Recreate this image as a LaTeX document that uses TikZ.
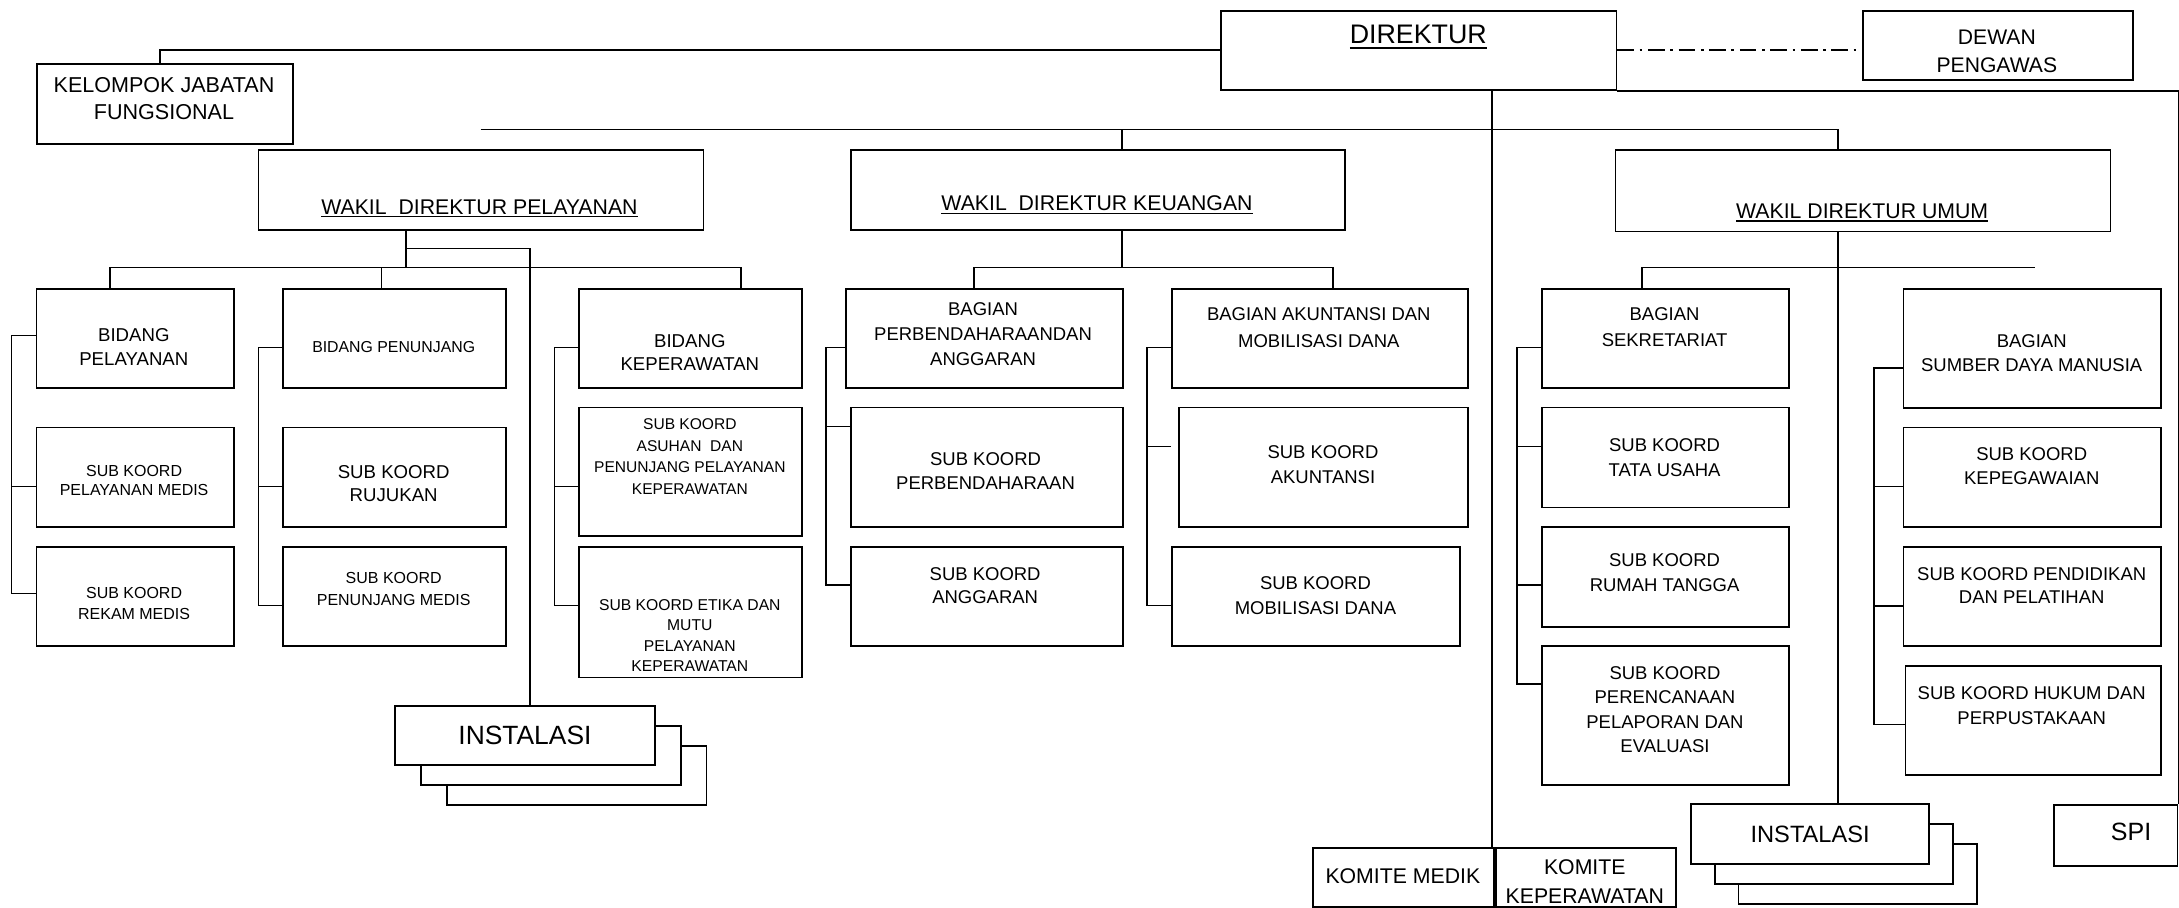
\documentclass[tikz,border=0pt]{standalone}
\usepackage{fontspec}
\setmainfont{Liberation Sans}
\newsavebox\ulbx
\newcommand\ulin[3]{\sbox\ulbx{#3}\rlap{\vrule height -#1 depth #2 width \wd\ulbx}\usebox\ulbx}
\newcommand\fs[2]{\fontsize{#1}{#2}\selectfont}
\newcommand\bx[5]{\node[box, minimum width={#4-#2}, minimum height={#5-#3}] (#1) at (#2,#3) {};}
\newcommand\ibx[7]{\node[box, minimum width={#4-#2}, minimum height={#5-#3}, font=\fs{#6}{#6}] (#1) at (#2,#3) {\raisebox{-#7}{INSTALASI}};}
\begin{document}
\begin{tikzpicture}[x=1pt,y=-1pt,
 box/.style={draw, line width=1.3pt, fill=white, inner sep=0pt, anchor=north west},
 lbl/.style={inner sep=0pt, align=center, anchor=north},
 one/.style={inner sep=0pt, anchor=base},
 conn/.style={line width=1.15pt},
 dd/.style={line width=1.2pt, dash pattern=on 12pt off 4pt on 2pt off 4pt}]
\useasboundingbox[fill=white] (0,0) rectangle (1568,653);
% boxes
\bx{dir}{877.8}{7.2}{1162.6}{64.3}
\bx{dewan}{1340}{7.2}{1534.3}{56.9}
\bx{kjf}{25.7}{45.6}{210.3}{103.1}
\bx{wdp}{185.4}{107.2}{505.6}{164.6}
\bx{wdk}{611.6}{107.2}{967.1}{164.6}
\bx{wdu}{1161.9}{107.2}{1518.1}{166}
\bx{bp}{25.6}{207.5}{167.8}{278.7}
\bx{skpm}{25.6}{307}{167.8}{378.5}
\bx{skrm}{25.6}{392.9}{167.8}{464.3}
\bx{bpn}{203.2}{207.5}{363.5}{278.7}
\bx{skruj}{203.2}{307}{363.5}{378.5}
\bx{skpnm}{203.2}{392.9}{363.5}{464.3}
\bx{bkep}{416.2}{207.5}{576.5}{278.7}
\bx{skas}{416.2}{292.6}{576.5}{385}
\bx{sket}{416.2}{392.9}{576.5}{486.9}
\bx{bperb}{608.3}{207.5}{807.2}{278.7}
\bx{skperb}{611.6}{292.6}{807.2}{378.5}
\bx{skangg}{611.6}{392.9}{807.2}{464.3}
\bx{bakun}{842.8}{207.5}{1055.8}{278.7}
\bx{skakun}{848}{292.6}{1055.8}{378.5}
\bx{skmob}{842.8}{392.9}{1050.1}{464.3}
\bx{bsek}{1109}{207.5}{1286.6}{278.7}
\bx{sktu}{1109}{292.6}{1286.6}{364.6}
\bx{skrt}{1109}{378.5}{1286.6}{450.5}
\bx{skper}{1109}{464.1}{1286.6}{564.4}
\bx{bsdm}{1369.1}{207.5}{1554.5}{293.1}
\bx{skpeg}{1369.1}{307}{1554.5}{378.5}
\bx{skpend}{1369.1}{392.9}{1554.5}{464.3}
\bx{skhuk}{1370.5}{478.5}{1554.4}{557}
\bx{kmed}{944.2}{609.3}{1074.3}{652}
\bx{kkep}{1075.6}{609.3}{1205.2}{652}
\bx{spi}{1477.3}{578.8}{1566.3}{622.5}
\ibx{insL3}{320.9}{536.1}{507.8}{578.8}{19}{4pt}
\ibx{insL2}{302.2}{521.7}{489.1}{564.4}{19}{4pt}
\ibx{insL1}{283.8}{507.3}{470.4}{550}{19}{0pt}
\ibx{insR3}{1250.4}{606.8}{1421.7}{650}{17}{3.5pt}
\ibx{insR2}{1233.3}{592.4}{1404.7}{635.6}{17}{3.5pt}
\ibx{insR1}{1216.2}{578.1}{1387.6}{621.2}{17}{0pt}
% texts
\node[one, font=\fs{19.3}{23}] (tdir) at (1020.6,31.2) {\ulin{2.4pt}{3.8pt}{DIREKTUR}};
\node[lbl, font=\fs{15.2}{19.9}] (tdewan) at (1436.9,21.5) {DEWAN\\PENGAWAS};
\node[lbl, font=\fs{15.5}{19.6}] (tkjf) at (118,55.6) {KELOMPOK JABATAN\\FUNGSIONAL};
\node[one, font=\fs{15.3}{18}] (twdp) at (345,154.2) {\ulin{1.2pt}{2.3pt}{WAKIL\ \ DIREKTUR PELAYANAN}};
\node[one, font=\fs{15.3}{18}] (twdk) at (789.4,151.8) {\ulin{1.2pt}{2.3pt}{WAKIL\ \ DIREKTUR KEUANGAN}};
\node[one, font=\fs{15.3}{18}] (twdu) at (1340,157.1) {\ulin{1.2pt}{2.3pt}{WAKIL DIREKTUR UMUM}};
\node[lbl, font=\fs{13.4}{17}] (tbp) at (96.3,236.3) {BIDANG\\PELAYANAN};
\node[lbl, font=\fs{11.5}{13.4}] (tskpm) at (96.5,334.8) {SUB KOORD\\PELAYANAN MEDIS};
\node[lbl, font=\fs{11.5}{15.1}] (tskrm) at (96.5,422.3) {SUB KOORD\\REKAM MEDIS};
\node[one, font=\fs{11.4}{14}] (tbpn) at (283.3,253.3) {BIDANG PENUNJANG};
\node[lbl, font=\fs{13.4}{16.8}] (tskruj) at (283.3,334.6) {SUB KOORD\\RUJUKAN};
\node[lbl, font=\fs{11.5}{15.6}] (tskpnm) at (283.3,411.6) {SUB KOORD\\PENUNJANG MEDIS};
\node[lbl, font=\fs{13.4}{17.1}] (tbkep) at (496.4,240.3) {BIDANG\\KEPERAWATAN};
\node[lbl, font=\fs{11.2}{15.4}] (tskas) at (496.4,301.4) {SUB KOORD\\ASUHAN\ \ DAN\\PENUNJANG PELAYANAN\\KEPERAWATAN};
\node[lbl, font=\fs{11.3}{14.8}] (tsket) at (496.4,430.9) {SUB KOORD ETIKA DAN\\MUTU\\PELAYANAN\\KEPERAWATAN};
\node[lbl, font=\fs{13.3}{17.75}] (tbperb) at (707.4,217.9) {BAGIAN\\PERBENDAHARAANDAN\\ANGGARAN};
\node[lbl, font=\fs{13.3}{17.3}] (tskperb) at (709.2,325.8) {SUB KOORD\\PERBENDAHARAAN};
\node[lbl, font=\fs{13.3}{17.2}] (tskangg) at (708.9,407.9) {SUB KOORD\\ANGGARAN};
\node[lbl, font=\fs{13.3}{18.9}] (tbakun) at (949,221.5) {BAGIAN AKUNTANSI DAN\\MOBILISASI DANA};
\node[lbl, font=\fs{13.3}{18}] (tskakun) at (952,320.3) {SUB KOORD\\AKUNTANSI};
\node[lbl, font=\fs{13.3}{18}] (tskmob) at (946.6,414.5) {SUB KOORD\\MOBILISASI DANA};
\node[one, font=\fs{15.3}{18}] (tkmed) at (1009.5,635.6) {KOMITE MEDIK};
\node[lbl, font=\fs{15.3}{20.9}] (tkkep) at (1140.4,618.6) {KOMITE\\KEPERAWATAN};
\node[one, font=\fs{18}{21}] (tspi) at (1533.5,605) {SPI};
\node[lbl, font=\fs{13.3}{18.4}] (tbsek) at (1197.8,221.5) {BAGIAN\\SEKRETARIAT};
\node[lbl, font=\fs{13.3}{18}] (tsktu) at (1197.8,315.5) {SUB KOORD\\TATA USAHA};
\node[lbl, font=\fs{13.3}{18}] (tskrt) at (1197.8,398.3) {SUB KOORD\\RUMAH TANGGA};
\node[lbl, font=\fs{13.3}{17.6}] (tskper) at (1198.1,479.3) {SUB KOORD\\PERENCANAAN\\PELAPORAN DAN\\EVALUASI};
\node[lbl, font=\fs{13.3}{17.6}] (tbsdm) at (1462,240.4) {BAGIAN\\SUMBER DAYA MANUSIA};
\node[lbl, font=\fs{13.3}{17.5}] (tskpeg) at (1462,322) {SUB KOORD\\KEPEGAWAIAN};
\node[lbl, font=\fs{13.3}{17.2}] (tskpend) at (1462,407.9) {SUB KOORD PENDIDIKAN\\DAN PELATIHAN};
\node[lbl, font=\fs{13.3}{18}] (tskhuk) at (1462,493.7) {SUB KOORD HUKUM DAN\\PERPUSTAKAAN};
% top connectors
\coordinate (kx) at (114.9,36);
\draw[conn, line width=1.4pt] (kx |- kjf.north) -- (kx) -- (kx -| dir.west);
\draw[dd] (dir.east |- kx) -- (dewan.west |- kx);
\draw[conn] (dir.south east) -- (spi.north east |- dir.south) -- (spi.north east);
\coordinate (dv) at (1073.8,64.3);
\draw[conn] (dv |- dir.south) -- (dv |- kmed.north);
\coordinate (tb1) at (345.8,93.1);
\coordinate (tbk) at (807.4,93.1);
\coordinate (tbu) at (1322.7,93.1);
\draw[conn, line width=1pt] (tb1) -- (tbu) -- (tbu |- wdu.north);
\draw[conn] (tbk) -- (tbk |- wdk.north);
% pelayanan
\coordinate (pv) at (292.3,192.6);
\coordinate (pL) at (79.3,192.6);
\coordinate (pM) at (274.6,192.6);
\coordinate (pR) at (533,192.6);
\coordinate (pi) at (292.3,178.7);
\coordinate (pi2) at (381.2,178.7);
\draw[conn] (pv |- wdp.south) -- (pv);
\draw[conn] (pL |- bp.north) -- (pL) -- (pR) -- (pR |- bkep.north);
\draw[conn] (pM) -- (pM |- bpn.north);
\draw[conn] (pi) -- (pi2) -- (pi2 |- insL1.north);
\coordinate (b1) at (8.3,241.5); \coordinate (b1m) at (8.3,350.2); \coordinate (b1e) at (8.3,427);
\draw[conn] (b1 -| bp.west) -- (b1) -- (b1e) -- (b1e -| skrm.west);
\draw[conn] (b1m) -- (b1m -| skpm.west);
\coordinate (b2) at (185.9,250.2); \coordinate (b2m) at (185.9,350.2); \coordinate (b2e) at (185.9,435.6);
\draw[conn] (b2 -| bpn.west) -- (b2) -- (b2e) -- (b2e -| skpnm.west);
\draw[conn] (b2m) -- (b2m -| skruj.west);
\coordinate (b3) at (398.9,250.2); \coordinate (b3m) at (398.9,350.2); \coordinate (b3e) at (398.9,435.6);
\draw[conn] (b3 -| bkep.west) -- (b3) -- (b3e) -- (b3e -| sket.west);
\draw[conn] (b3m) -- (b3m -| skas.west);
% keuangan
\coordinate (kv) at (807.4,192.6);
\coordinate (kL) at (700.9,192.6);
\coordinate (kR) at (959,192.6);
\draw[conn] (kv |- wdk.south) -- (kv);
\draw[conn] (kL |- bperb.north) -- (kL) -- (kR) -- (kR |- bakun.north);
\coordinate (b4) at (594.5,250.2); \coordinate (b4m) at (594.5,307); \coordinate (b4e) at (594.5,421);
\draw[conn] (b4 -| bperb.west) -- (b4) -- (b4e) -- (b4e -| skangg.west);
\draw[conn] (b4m) -- (b4m -| skperb.west);
\coordinate (b5) at (825.5,250.2); \coordinate (b5m) at (825.5,321.4); \coordinate (b5e) at (825.5,435.6);
\draw[conn] (b5 -| bakun.west) -- (b5) -- (b5e) -- (b5e -| skmob.west);
\draw[conn] (b5m) -- (b5m -| bakun.west);
% umum
\coordinate (uL) at (1181.6,192.6);
\coordinate (uR) at (1464.2,192.6);
\draw[conn] (uL |- bsek.north) -- (uL) -- (uR);
\draw[conn] (tbu |- wdu.south) -- (tbu |- insR1.north);
\coordinate (b6) at (1091.8,250.2); \coordinate (b6a) at (1091.8,321.4); \coordinate (b6b) at (1091.8,421); \coordinate (b6e) at (1091.8,492.4);
\draw[conn] (b6 -| bsek.west) -- (b6) -- (b6e) -- (b6e -| skper.west);
\draw[conn] (b6a) -- (b6a -| sktu.west);
\draw[conn] (b6b) -- (b6b -| skrt.west);
\coordinate (b7) at (1348.6,264.6); \coordinate (b7a) at (1348.6,350.2); \coordinate (b7b) at (1348.6,436.1); \coordinate (b7e) at (1348.6,521.2);
\draw[conn] (b7 -| bsdm.west) -- (b7) -- (b7e) -- (b7e -| skhuk.west);
\draw[conn] (b7a) -- (b7a -| skpeg.west);
\draw[conn] (b7b) -- (b7b -| skpend.west);
\end{tikzpicture}
\end{document}
